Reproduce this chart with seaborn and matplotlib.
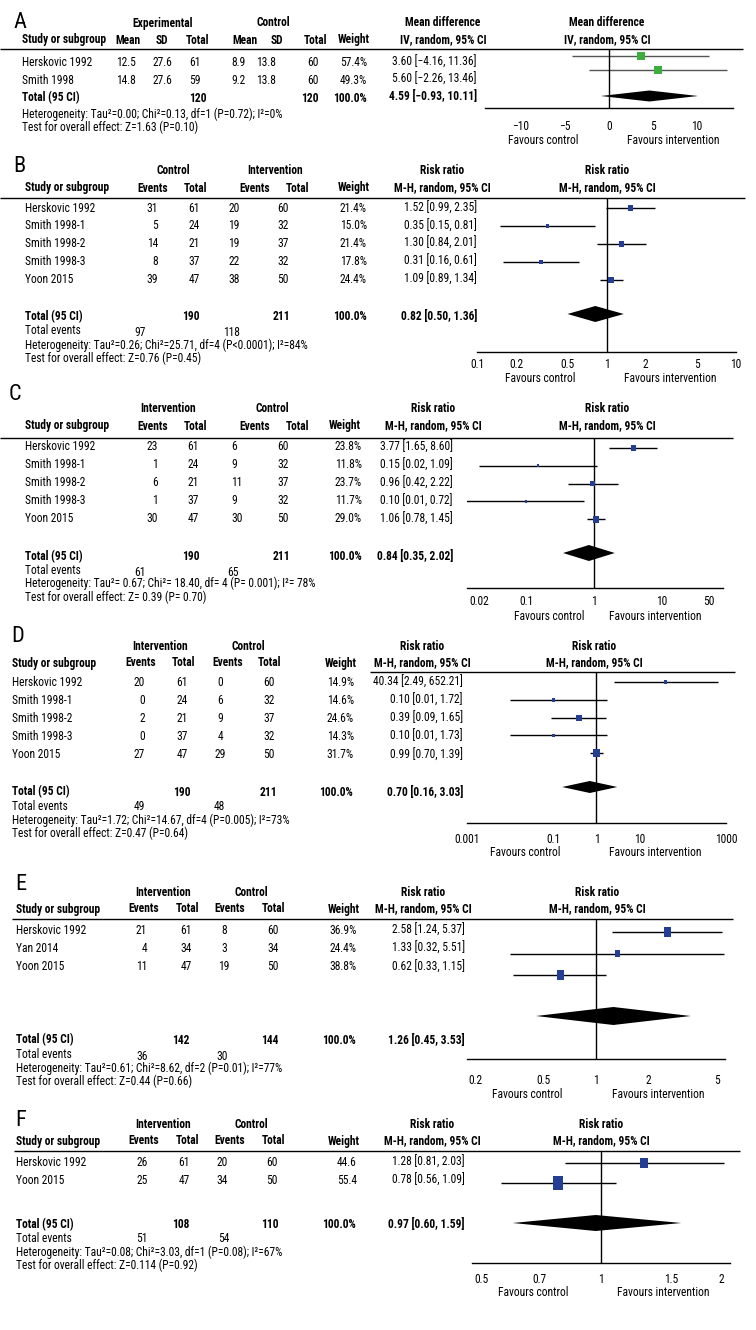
import numpy as np
import pandas as pd
import matplotlib
matplotlib.use('Agg')
import matplotlib.pyplot as plt
import seaborn as sns
from matplotlib import font_manager
from matplotlib.markers import MarkerStyle
from matplotlib.ticker import NullLocator

# ---------------- data ----------------
# A: mean difference
a_study = ['Herskovic 1992', 'Smith 1998']
a_exp_mean = [12.5, 14.8]
a_exp_sd = [27.6, 27.6]
a_exp_total = [61, 59]
a_ctl_mean = [8.9, 9.2]
a_ctl_sd = [13.8, 13.8]
a_ctl_total = [60, 60]
a_weight = [57.4, 49.3]
a_md = [3.60, 5.60]
a_lo = [-4.16, -2.26]
a_hi = [11.36, 13.46]
a_pooled = [4.59, -0.93, 10.11]
a_sum_total = [120, 120]
a_het = 'Heterogeneity: Tau²=0.00; Chi²=0.13, df=1 (P=0.72); I²=0%'
a_test = 'Test for overall effect: Z=1.63 (P=0.10)'

# B
b_study = ['Herskovic 1992', 'Smith 1998-1', 'Smith 1998-2', 'Smith 1998-3', 'Yoon 2015']
b_ctl_events = [31, 5, 14, 8, 39]
b_ctl_total = [61, 24, 21, 37, 47]
b_int_events = [20, 19, 19, 22, 38]
b_int_total = [60, 32, 37, 32, 50]
b_weight = [21.4, 15.0, 21.4, 17.8, 24.4]
b_rr = [1.52, 0.35, 1.30, 0.31, 1.09]
b_lo = [0.99, 0.15, 0.84, 0.16, 0.89]
b_hi = [2.35, 0.81, 2.01, 0.61, 1.34]
b_pooled = [0.82, 0.50, 1.36]
b_sum_total = [190, 211]
b_sum_events = [97, 118]
b_het = 'Heterogeneity: Tau²=0.26; Chi²=25.71, df=4 (P<0.0001); I²=84%'
b_test = 'Test for overall effect: Z=0.76 (P=0.45)'

# C
c_study = ['Herskovic 1992', 'Smith 1998-1', 'Smith 1998-2', 'Smith 1998-3', 'Yoon 2015']
c_int_events = [23, 1, 6, 1, 30]
c_int_total = [61, 24, 21, 37, 47]
c_ctl_events = [6, 9, 11, 9, 30]
c_ctl_total = [60, 32, 37, 32, 50]
c_weight = [23.8, 11.8, 23.7, 11.7, 29.0]
c_rr = [3.77, 0.15, 0.96, 0.10, 1.06]
c_lo = [1.65, 0.02, 0.42, 0.01, 0.78]
c_hi = [8.60, 1.09, 2.22, 0.72, 1.45]
c_pooled = [0.84, 0.35, 2.02]
c_sum_total = [190, 211]
c_sum_events = [61, 65]
c_het = 'Heterogeneity: Tau²= 0.67; Chi²= 18.40, df= 4 (P= 0.001); I²= 78%'
c_test = 'Test for overall effect: Z= 0.39 (P= 0.70)'

# D
d_study = ['Herskovic 1992', 'Smith 1998-1', 'Smith 1998-2', 'Smith 1998-3', 'Yoon 2015']
d_int_events = [20, 0, 2, 0, 27]
d_int_total = [61, 24, 21, 37, 47]
d_ctl_events = [0, 6, 9, 4, 29]
d_ctl_total = [60, 32, 37, 32, 50]
d_weight = [14.9, 14.6, 24.6, 14.3, 31.7]
d_rr = [40.34, 0.10, 0.39, 0.10, 0.99]
d_lo = [2.49, 0.01, 0.09, 0.01, 0.70]
d_hi = [652.21, 1.72, 1.65, 1.73, 1.39]
d_pooled = [0.70, 0.16, 3.03]
d_sum_total = [190, 211]
d_sum_events = [49, 48]
d_het = 'Heterogeneity: Tau²=1.72; Chi²=14.67, df=4 (P=0.005); I²=73%'
d_test = 'Test for overall effect: Z=0.47 (P=0.64)'

# E
e_study = ['Herskovic 1992', 'Yan 2014', 'Yoon 2015']
e_int_events = [21, 4, 11]
e_int_total = [61, 34, 47]
e_ctl_events = [8, 3, 19]
e_ctl_total = [60, 34, 50]
e_weight = [36.9, 24.4, 38.8]
e_rr = [2.58, 1.33, 0.62]
e_lo = [1.24, 0.32, 0.33]
e_hi = [5.37, 5.51, 1.15]
e_pooled = [1.26, 0.45, 3.53]
e_sum_total = [142, 144]
e_sum_events = [36, 30]
e_het = 'Heterogeneity: Tau²=0.61; Chi²=8.62, df=2 (P=0.01); I²=77%'
e_test = 'Test for overall effect: Z=0.44 (P=0.66)'

# F
f_study = ['Herskovic 1992', 'Yoon 2015']
f_int_events = [26, 25]
f_int_total = [61, 47]
f_ctl_events = [20, 34]
f_ctl_total = [60, 50]
f_weight = [44.6, 55.4]
f_rr = [1.28, 0.78]
f_lo = [0.81, 0.56]
f_hi = [2.03, 1.09]
f_pooled = [0.97, 0.60, 1.59]
f_sum_total = [108, 110]
f_sum_events = [51, 54]
f_het = 'Heterogeneity: Tau²=0.08; Chi²=3.03, df=1 (P=0.08); I²=67%'
f_test = 'Test for overall effect: Z=0.114 (P=0.92)'

# ---------------- style ----------------
sns.set_style('white')
installed = {f.name for f in font_manager.fontManager.ttflist}
family = 'DejaVu Sans'
for cand in ['Liberation Sans Narrow', 'Roboto Condensed', 'Open Sans Condensed', 'Liberation Sans']:
    if cand in installed:
        family = cand
        break
plt.rcParams['font.family'] = [family, 'DejaVu Sans']

W, H = 756, 1330
FS = 8.3
BLUE = '#233e92'
GREEN = '#3cae3f'

fig = plt.figure(figsize=(W / 100, H / 100), dpi=100)
bg = fig.add_axes([0, 0, 1, 1])
bg.set_xlim(0, W)
bg.set_ylim(H, 0)
bg.axis('off')


def txt(x, y, s, ha='left', bold=False, size=FS):
    bg.text(x, y, s, ha=ha, va='center', fontsize=size,
            fontweight='bold' if bold else 'normal', color='black')


def fmt_ci(v, lo, hi):
    return f'{v:.2f} [{lo:.2f}, {hi:.2f}]'.replace('-', '\u2212')


def forest(lay, est, lo, hi, weight, pooled, color, ci_color='black'):
    x0, x1 = lay['fx']
    top, bottom = lay['rule'][2], lay['axis_y']
    ax = fig.add_axes([x0 / W, 1 - bottom / H, (x1 - x0) / W, (bottom - top) / H])
    ax.set_xscale(lay['scale'])
    ax.patch.set_alpha(0)
    ys = [lay['frow0'] + i * lay['fstep'] for i in range(len(est))]
    ax.hlines(ys, lo, hi, color=ci_color, lw=1)
    ax.axvline(lay['ref'], color='black', lw=1)
    h = np.array(weight) * lay['box']
    if lay.get('box_fixed'):
        h = np.full(len(est), lay['box_fixed'])
    a = lay['aspect']
    mk = MarkerStyle(np.array([(-a, -1), (a, -1), (a, 1), (-a, 1), (-a, -1)]))
    df = pd.DataFrame({'est': est, 'y': ys})
    sns.scatterplot(data=df, x='est', y='y', marker=mk, s=(h * 0.72) ** 2,
                    color=color, linewidth=0, ax=ax, legend=False, zorder=3)
    v, l, r = pooled
    dy, dh = lay['dia']
    ax.fill([l, v, r, v], [dy, dy - dh, dy, dy + dh], color='black', lw=0, zorder=3)
    ax.set_xlim(lay['xlim'])
    ax.set_ylim(bottom, top)
    for s in ['top', 'right', 'left']:
        ax.spines[s].set_visible(False)
    ax.spines['bottom'].set_linewidth(1)
    ax.spines['bottom'].set_color('black')
    ax.set_yticks([])
    ax.set_xlabel('')
    ax.set_ylabel('')
    ax.set_xticks(lay['ticks'])
    ax.set_xticklabels(lay['ticklabels'])
    ax.xaxis.set_minor_locator(NullLocator())
    pad = (lay['gap'] - 3.5 - 5) * 0.72
    ax.tick_params(axis='x', direction='inout', length=7, width=1, pad=pad,
                   labelsize=FS, colors='black')
    fy = lay['fav_y']
    txt(lay['fav_x'][0], fy, 'Favours control', ha='center')
    txt(lay['fav_x'][1], fy, 'Favours intervention', ha='center')


# ---------------- panel A ----------------
lay_a = dict(rule=(0, 743, 49), fx=(485, 733), axis_y=108, scale='linear',
             xlim=(-14.09, 14.09), ticks=[-10, -5, 0, 5, 10],
             ticklabels=['\u221210', '\u22125', '0', '5', '10'], ref=0,
             frow0=56, fstep=14, box=0, box_fixed=8, aspect=1, dia=(96, 5.5),
             gap=16, fav_y=140, fav_x=(543, 673))

txt(13, 22, 'A', size=16)
txt(163, 23, 'Experimental', ha='center', bold=True)
txt(273, 23, 'Control', ha='center', bold=True)
txt(443, 23, 'Mean difference', ha='center', bold=True)
txt(607, 23, 'Mean difference', ha='center', bold=True)
for x, s in [(128, 'Mean'), (162, 'SD'), (198, 'Total'), (245, 'Mean'),
             (277, 'SD'), (315, 'Total'), (354, 'Weight')]:
    txt(x, 40, s, ha='center', bold=True)
txt(22, 40, 'Study or subgroup', bold=True)
txt(443, 40, 'IV, random, 95% CI', ha='center', bold=True)
txt(607, 40, 'IV, random, 95% CI', ha='center', bold=True)
bg.hlines(lay_a['rule'][2], lay_a['rule'][0], lay_a['rule'][1], color='black', lw=1)
for i, st in enumerate(a_study):
    y = 63 + i * 17.5
    txt(22, y, st)
    txt(126, y, f'{a_exp_mean[i]:.1f}', ha='center')
    txt(162, y, f'{a_exp_sd[i]:.1f}', ha='center')
    txt(195, y, str(a_exp_total[i]), ha='center')
    txt(239, y, f'{a_ctl_mean[i]:.1f}', ha='center')
    txt(266, y, f'{a_ctl_sd[i]:.1f}', ha='center')
    txt(313, y, str(a_ctl_total[i]), ha='center')
    txt(367, y, f'{a_weight[i]:.1f}%', ha='right')
    txt(477, y - 1, fmt_ci(a_md[i], a_lo[i], a_hi[i]), ha='right')
txt(22, 98, 'Total (95 CI)', bold=True)
txt(198, 98, str(a_sum_total[0]), ha='center', bold=True)
txt(310, 98, str(a_sum_total[1]), ha='center', bold=True)
txt(367, 98, '100.0%', ha='right', bold=True)
txt(477, 97, fmt_ci(*a_pooled), ha='right', bold=True)
txt(22, 114, a_het)
txt(22, 127, a_test)
forest(lay_a, a_md, a_lo, a_hi, a_weight, a_pooled, GREEN, ci_color='#555555')


# ---------------- panels B-F ----------------
def rr_panel(lay, study, g1_ev, g1_n, g2_ev, g2_n, weight, rr, lo, hi, pooled,
             sum_total, sum_events, het, test):
    txt(lay['letter'][1], lay['letter'][2], lay['letter'][0], size=16)
    gy, hy = lay['gy'], lay['hy']
    for name, x in lay['groups']:
        txt(x, gy, name, ha='center', bold=True)
    txt(lay['rrx'], gy, 'Risk ratio', ha='center', bold=True)
    txt(lay['rhx'], gy, 'Risk ratio', ha='center', bold=True)
    txt(lay['sx'], hy, 'Study or subgroup', bold=True)
    for x, s in zip(lay['hx'], ['Events', 'Total', 'Events', 'Total', 'Weight']):
        txt(x, hy, s, ha='center', bold=True)
    txt(lay['rrx'], hy, 'M-H, random, 95% CI', ha='center', bold=True)
    txt(lay['rhx'], hy, 'M-H, random, 95% CI', ha='center', bold=True)
    x0, x1, ry = lay['rule']
    bg.hlines(ry, x0, x1, color='black', lw=1)
    cols = lay['cols']
    for i, st in enumerate(study):
        y = lay['row0'] + i * lay['step']
        txt(lay['sx'], y, st)
        vals = [str(g1_ev[i]), str(g1_n[i]), str(g2_ev[i]), str(g2_n[i]),
                f'{weight[i]:.1f}' + ('%' if lay['pct'] else '')]
        for (x, ha), s in zip(cols, vals):
            txt(x, y, s, ha=ha)
        txt(lay['cix'], y, fmt_ci(rr[i], lo[i], hi[i]), ha='right')
    ty = lay['ty']
    txt(lay['sx'], ty, 'Total (95 CI)', bold=True)
    for (x, ha), s in zip(lay['tcols'], sum_total):
        txt(x, ty, str(s), ha=ha, bold=True)
    txt(lay['wtot'], ty, '100.0%', ha='right', bold=True)
    txt(lay['cix'], lay['tciy'], fmt_ci(*pooled), ha='right', bold=True)
    ey = lay['ey']
    txt(lay['sx'], ey, 'Total events')
    for x, s in zip(lay['ecols'], sum_events):
        txt(x, ey + 1, str(s), ha='center')
    txt(lay['sx'], lay['hety'], het)
    txt(lay['sx'], lay['testy'], test)
    forest(lay, rr, lo, hi, weight, pooled, BLUE)


lay_b = dict(letter=('B', 13, 166), groups=[('Control', 173), ('Intervention', 275)],
             gy=171, hy=188, sx=25, hx=[153, 196, 255, 297, 354], rule=(0, 745, 198),
             row0=208, step=17.8,
             cols=[(158, 'right'), (200, 'right'), (234, 'center'), (283, 'center'), (367, 'right')],
             pct=True, ty=317, tcols=[(200, 'right'), (290, 'right')], wtot=367,
             ey=331, ecols=[140, 232], hety=345, testy=358, cix=477, tciy=317,
             rrx=442, rhx=607,
             fx=(477, 736), axis_y=352, scale='log', xlim=(0.1, 10),
             ticks=[0.1, 0.2, 0.5, 1, 2, 5, 10],
             ticklabels=['0.1', '0.2', '0.5', '1', '2', '5', '10'], ref=1,
             frow0=208, fstep=18, box=0.26, aspect=0.9, dia=(314, 8),
             gap=10, fav_y=378, fav_x=(540, 670))

lay_c = dict(letter=('C', 9, 395), groups=[('Intervention', 168), ('Control', 272)],
             gy=409, hy=426, sx=25, hx=[153, 196, 255, 297, 345], rule=(0, 733, 438),
             row0=447, step=18,
             cols=[(158, 'right'), (199, 'right'), (231, 'left'), (283, 'center'), (362, 'right')],
             pct=True, ty=557, tcols=[(200, 'right'), (290, 'right')], wtot=362,
             ey=571, ecols=[140, 233], hety=583, testy=597, cix=453, tciy=557,
             rrx=433, rhx=607,
             fx=(467, 723), axis_y=588, scale='log', xlim=(0.0134, 79.6),
             ticks=[0.02, 0.1, 1, 10, 50],
             ticklabels=['0.02', '0.1', '1', '10', '50'], ref=1,
             frow0=448, fstep=17.8, box=0.24, aspect=0.9, dia=(553, 8),
             gap=11, fav_y=617, fav_x=(549, 655))

lay_d = dict(letter=('D', 11, 637), groups=[('Intervention', 160), ('Control', 248)],
             gy=647, hy=663, sx=12, hx=[141, 184, 228, 270, 341], rule=(370, 735, 672),
             row0=682, step=18.2,
             cols=[(145, 'right'), (182, 'center'), (220, 'center'), (269, 'center'), (354, 'right')],
             pct=True, ty=792, tcols=[(182, 'center'), (268, 'center')], wtot=353,
             ey=806, ecols=[139, 219], hety=820, testy=833, cix=463, tciy=792,
             rrx=422, rhx=594,
             fx=(467, 726), axis_y=823, scale='log', xlim=(0.001, 1000),
             ticks=[0.001, 0.1, 1, 10, 1000],
             ticklabels=['0.001', '0.1', '1', '10', '1000'], ref=1,
             frow0=682, fstep=17.8, box=0.24, aspect=0.9, dia=(787, 6),
             gap=14, fav_y=853, fav_x=(525, 655))

lay_e = dict(letter=('E', 15, 884), groups=[('Intervention', 163), ('Control', 251)],
             gy=892, hy=909, sx=16, hx=[144, 187, 230, 273, 344], rule=(12, 733, 919),
             row0=930, step=18.5,
             cols=[(147, 'right'), (186, 'center'), (224, 'center'), (273, 'center'), (357, 'right')],
             pct=True, ty=1040, tcols=[(181, 'center'), (270, 'center')], wtot=356,
             ey=1055, ecols=[142, 222], hety=1068, testy=1081, cix=465, tciy=1041,
             rrx=423, rhx=597,
             fx=(467, 725), axis_y=1059, scale='log', xlim=(0.1796, 5.57),
             ticks=[0.2, 0.5, 1, 2, 5],
             ticklabels=['0.2', '0.5', '1', '2', '5'], ref=1,
             frow0=932, fstep=21.5, box=0.27, aspect=0.67, dia=(1016, 9),
             gap=19, fav_y=1094, fav_x=(527, 658))

lay_f = dict(letter=('F', 15, 1121), groups=[('Intervention', 163), ('Control', 251)],
             gy=1124, hy=1141, sx=16, hx=[144, 187, 230, 273, 344], rule=(14, 740, 1151),
             row0=1162, step=18,
             cols=[(148, 'right'), (184, 'center'), (222, 'center'), (272, 'center'), (357, 'right')],
             pct=False, ty=1225, tcols=[(181, 'center'), (270, 'center')], wtot=356,
             ey=1238, ecols=[142, 224], hety=1252, testy=1265, cix=465, tciy=1225,
             rrx=432, rhx=601,
             fx=(472, 730), axis_y=1263, scale='log', xlim=(0.4746, 2.107),
             ticks=[0.5, 0.7, 1, 1.5, 2],
             ticklabels=['0.5', '0.7', '1', '1.5', '2'], ref=1,
             frow0=1163, fstep=20, box=0.245, aspect=0.7, dia=(1223, 8),
             gap=14, fav_y=1292, fav_x=(533, 663))

rr_panel(lay_b, b_study, b_ctl_events, b_ctl_total, b_int_events, b_int_total, b_weight,
         b_rr, b_lo, b_hi, b_pooled, b_sum_total, b_sum_events, b_het, b_test)
rr_panel(lay_c, c_study, c_int_events, c_int_total, c_ctl_events, c_ctl_total, c_weight,
         c_rr, c_lo, c_hi, c_pooled, c_sum_total, c_sum_events, c_het, c_test)
rr_panel(lay_d, d_study, d_int_events, d_int_total, d_ctl_events, d_ctl_total, d_weight,
         d_rr, d_lo, d_hi, d_pooled, d_sum_total, d_sum_events, d_het, d_test)
rr_panel(lay_e, e_study, e_int_events, e_int_total, e_ctl_events, e_ctl_total, e_weight,
         e_rr, e_lo, e_hi, e_pooled, e_sum_total, e_sum_events, e_het, e_test)
rr_panel(lay_f, f_study, f_int_events, f_int_total, f_ctl_events, f_ctl_total, f_weight,
         f_rr, f_lo, f_hi, f_pooled, f_sum_total, f_sum_events, f_het, f_test)

fig.savefig('out.png', dpi=100, facecolor='white')
